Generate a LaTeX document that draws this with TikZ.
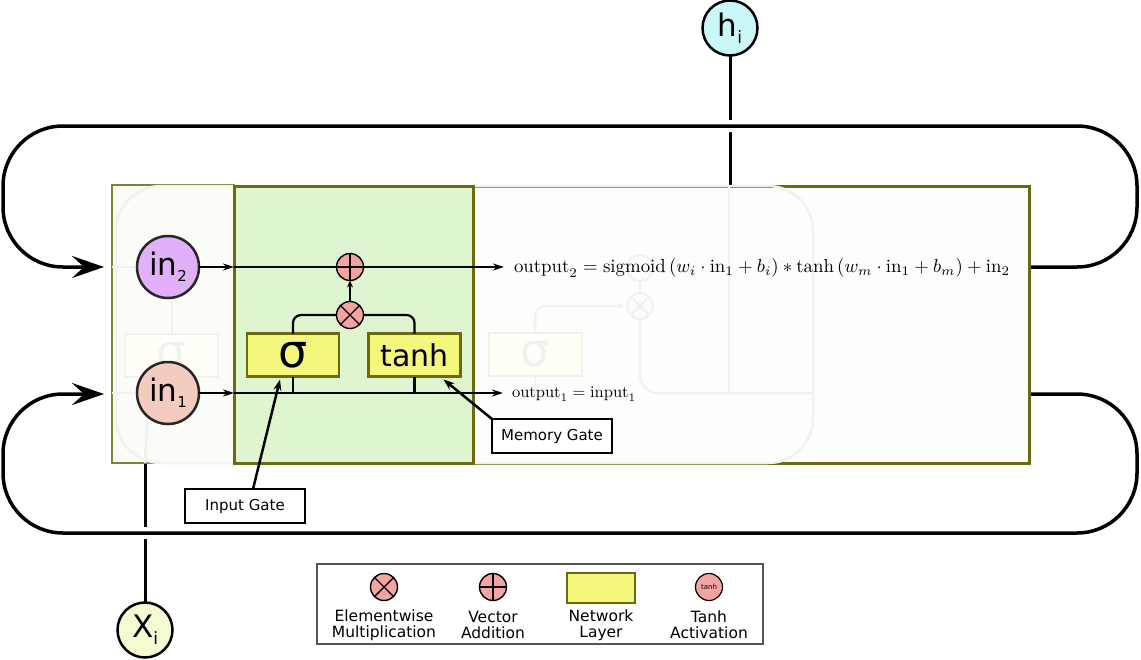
\documentclass[tikz,border=0pt]{standalone}
\usepackage{fontspec}
\usepackage{amsmath}
\usepackage{graphicx}
\newfontfamily\dv{DejaVu Sans}
\usetikzlibrary{arrows.meta,calc}
\pgfdeclarelayer{bg}
\pgfsetlayers{bg,main}
\definecolor{opred}{HTML}{F4A3A3}
\definecolor{yellowbox}{HTML}{F5F77D}
\definecolor{oliveB}{HTML}{6B6A0D}
\definecolor{oliveL}{HTML}{7F7F35}
\definecolor{greenfill}{HTML}{DFF5CF}
\definecolor{inAfill}{HTML}{E2B0FA}
\definecolor{inBfill}{HTML}{F4CBBF}
\definecolor{hifill}{HTML}{CCF7F9}
\definecolor{xifill}{HTML}{F3FBD1}
\definecolor{lboxfill}{HTML}{FBFBF8}
\definecolor{rboxfill}{HTML}{FDFDFB}
\definecolor{ghostc}{HTML}{F1F1EF}
\definecolor{legborder}{HTML}{555555}
\begin{document}
\begin{tikzpicture}[x=1pt,y=-1pt,
  every node/.style={inner sep=0pt, outer sep=0pt},
  opcirc/.style={circle, draw=black, fill=opred, line width=1.4pt, minimum size=27pt},
  optimes/.style={opcirc, path picture={\draw[line width=1.4pt] (path picture bounding box.north west) -- (path picture bounding box.south east) (path picture bounding box.north east) -- (path picture bounding box.south west);}},
  opplus/.style={opcirc, path picture={\draw[line width=1.4pt] (path picture bounding box.north) -- (path picture bounding box.south) (path picture bounding box.east) -- (path picture bounding box.west);}},
  ghostop/.style={circle, draw=ghostc, fill=opred!4, line width=2pt, minimum size=26pt},
  ghosttimes/.style={ghostop, path picture={\draw[ghostc, line width=2pt] (path picture bounding box.north west) -- (path picture bounding box.south east) (path picture bounding box.north east) -- (path picture bounding box.south west);}},
  layerbox/.style={draw=oliveB, fill=yellowbox, line width=2.5pt, minimum width=92pt, minimum height=43pt},
  ghostbox/.style={draw=ghostc, fill=yellowbox!5, line width=2pt, minimum width=93pt, minimum height=43pt, text=ghostc, font=\dv\fontsize{46}{46}\selectfont},
  varnode/.style={circle, draw=black!85, line width=2.5pt, minimum size=62pt, font=\dv\fontsize{31}{31}\selectfont},
  ionode/.style={circle, draw=black, line width=2.5pt, minimum size=55pt, font=\dv\fontsize{31}{31}\selectfont},
  labelbox/.style={draw=black, fill=white, line width=1.5pt, minimum width=120pt, minimum height=34pt, font=\dv\fontsize{15}{18}\selectfont},
  legtext/.style={align=center, font=\dv\fontsize{15.5}{16}\selectfont},
  ghost/.style={draw=ghostc, line width=2.5pt},
  thinarrow/.style={line width=2.5pt, -{Stealth[length=11pt,width=7pt]}},
  wire/.style={line width=2.2pt},
  loopline/.style={line width=3.5pt, rounded corners=60pt},
  bigtip/.style={-{Stealth[length=32pt,width=22pt,inset=12pt]}},
]
\useasboundingbox (0,0) rectangle (1141,659);

% cell boxes
\node[draw=oliveL, fill=lboxfill, line width=1.5pt, minimum width=122pt, minimum height=278pt, anchor=north west] (lbox) at (112,185) {};
\node[draw=oliveB, fill=rboxfill, line width=3pt, minimum width=556pt, minimum height=277pt, anchor=north west] (rbox) at (473,186) {};

% faint background drawing
\draw[ghost, rounded corners=45pt] (116,186) rectangle (813,463);
\draw[ghost] (112,267) -- (234,267) (112,393) -- (234,393);
\draw[ghost] (172,267) -- (172,333);
\node[ghostbox] (gsA) at (171.5,355) {σ};
\draw[ghost] (145,463) -- (148,410);
\node[ghostbox] (gsB) at (535,354) {σ};
\draw[ghost, rounded corners=10pt, -{Stealth[length=8pt,width=6pt]}] (gsB.north) -- (535,306) -- (625,306);
\draw[ghost] (gsB.south) -- (535,393);
\draw[ghost] (640,268) -- (640,306);
\draw[ghost, rounded corners=18pt] (640,306) -- (640,393) -- (813,393);
\draw[ghost] (729,186) -- (729,393);
\node[ghostop] (gadd) at (640,268) {};
\node[ghosttimes] (gmul) at (640,306) {};

% the network layer box
\node[draw=oliveB, fill=greenfill, line width=3pt, minimum width=239pt, minimum height=277pt, anchor=north west] (gbox) at (234,186) {};

% inputs and outputs
\node[varnode, fill=inAfill] (in2) at (168,267) {in\raisebox{-6pt}{\fontsize{15}{15}\selectfont 2}};
\node[varnode, fill=inBfill] (in1) at (168,393) {in\raisebox{-6pt}{\fontsize{15}{15}\selectfont 1}};
\node[ionode, fill=hifill] (hi) at (730,28) {h\raisebox{-7pt}{\fontsize{17}{17}\selectfont i}};
\node[ionode, fill=xifill] (xi) at (145,630) {X\raisebox{-7pt}{\fontsize{17}{17}\selectfont i}};

% gate operations
\node[opplus] (add) at (350,267) {};
\node[optimes] (mul) at (350,315) {};
\node[layerbox, font=\dv\fontsize{46}{46}\selectfont] (sig) at (293,355) {\raisebox{-1pt}{σ}};
\node[layerbox, font=\dv\fontsize{30}{30}\selectfont] (tanh) at (414.5,355) {tanh};

% formulas
\node[anchor=west] (out2) at (514,268) {\resizebox{496pt}{!}{$\mathrm{output}_2 = \operatorname{sigmoid}\left(w_i\cdot \mathrm{in}_1+b_i\right)*\tanh\left(w_m\cdot\mathrm{in}_1+b_m\right)+\mathrm{in}_2$}};
\node[anchor=west] (out1) at (512,394) {\resizebox{124pt}{!}{$\mathrm{output}_1=\mathrm{input}_1$}};

% labels
\node[labelbox] (igate) at (245,506) {Input Gate};
\node[labelbox] (mgate) at (552,436) {Memory Gate};

% connections inside the cell
\draw[thinarrow] (in2) -- (gbox.west |- in2);
\draw[thinarrow] (in1) -- (gbox.west |- in1);
\draw[thinarrow] (gbox.west |- in2) -- ($(out2.west)+(-10,-1)$);
\draw[thinarrow] (gbox.west |- in1) -- ($(out1.west)+(-9,-1)$);
\draw[wire, -{Stealth[length=7pt,width=6pt]}] (mul) -- (add);
\draw[wire, rounded corners=8pt] (mul.west) -| (sig.north);
\draw[wire, rounded corners=8pt] (mul.east) -| (tanh.north);
\draw[wire] (sig.south) -- (sig.south |- in1);
\draw[wire] (tanh.south) -- (tanh.south |- in1);
\draw[line width=2.5pt, -{Stealth[length=11pt,width=8pt]}] ($(igate.north)+(8,0)$) -- ($(sig.south)+(-13,3)$);
\draw[line width=2.5pt, -{Stealth[length=11pt,width=8pt]}] (mgate.north west) -- ($(tanh.south east)+(-17,3)$);

% legend
\node[draw=legborder, line width=1.5pt, fill=white, minimum width=446pt, minimum height=80pt] (legend) at (540,604) {};
\node[optimes] (lmul) at (384,587) {};
\node[opplus] (ladd) at (493,587) {};
\node[layerbox, minimum width=68pt, minimum height=30pt, line width=2pt] (llayer) at (601,588) {};
\node[circle, draw=black, fill=opred, line width=1.2pt, minimum size=27pt, font=\dv\fontsize{7}{7}\selectfont] (ltanh) at (709,587) {tanh};
\node[legtext] (tmul) at (384,625) {Elementwise\\Multiplication};
\node[legtext] (tadd) at (493,625) {Vector\\Addition};
\node[legtext] (tlayer) at (601,625) {Network\\Layer};
\node[legtext] (ttanh) at (709,625) {Tanh\\Activation};

% recurrent loops and external connections
\coordinate (tipA) at (104,267);
\coordinate (tipB) at (104,394);
\begin{pgfonlayer}{bg}
\draw[line width=3pt] (hi) -- (hi |- rbox.north);
\draw[line width=3pt] (xi) -- (xi |- lbox.south);
\draw[loopline, draw=white, line width=12pt] (rbox.east |- in2) -- (1137,267) -- (1137,126) -- (3,126) -- (3,267) -- (tipA);
\draw[loopline, bigtip] (rbox.east |- in2) -- (1137,267) -- (1137,126) -- (3,126) -- (3,267) -- (tipA);
\draw[loopline, draw=white, line width=12pt] (rbox.east |- tipB) -- (1137,394) -- (1137,533) -- (3,533) -- (3,394) -- (tipB);
\draw[loopline, bigtip] (rbox.east |- tipB) -- (1137,394) -- (1137,533) -- (3,533) -- (3,394) -- (tipB);
\end{pgfonlayer}
\end{tikzpicture}
\end{document}
